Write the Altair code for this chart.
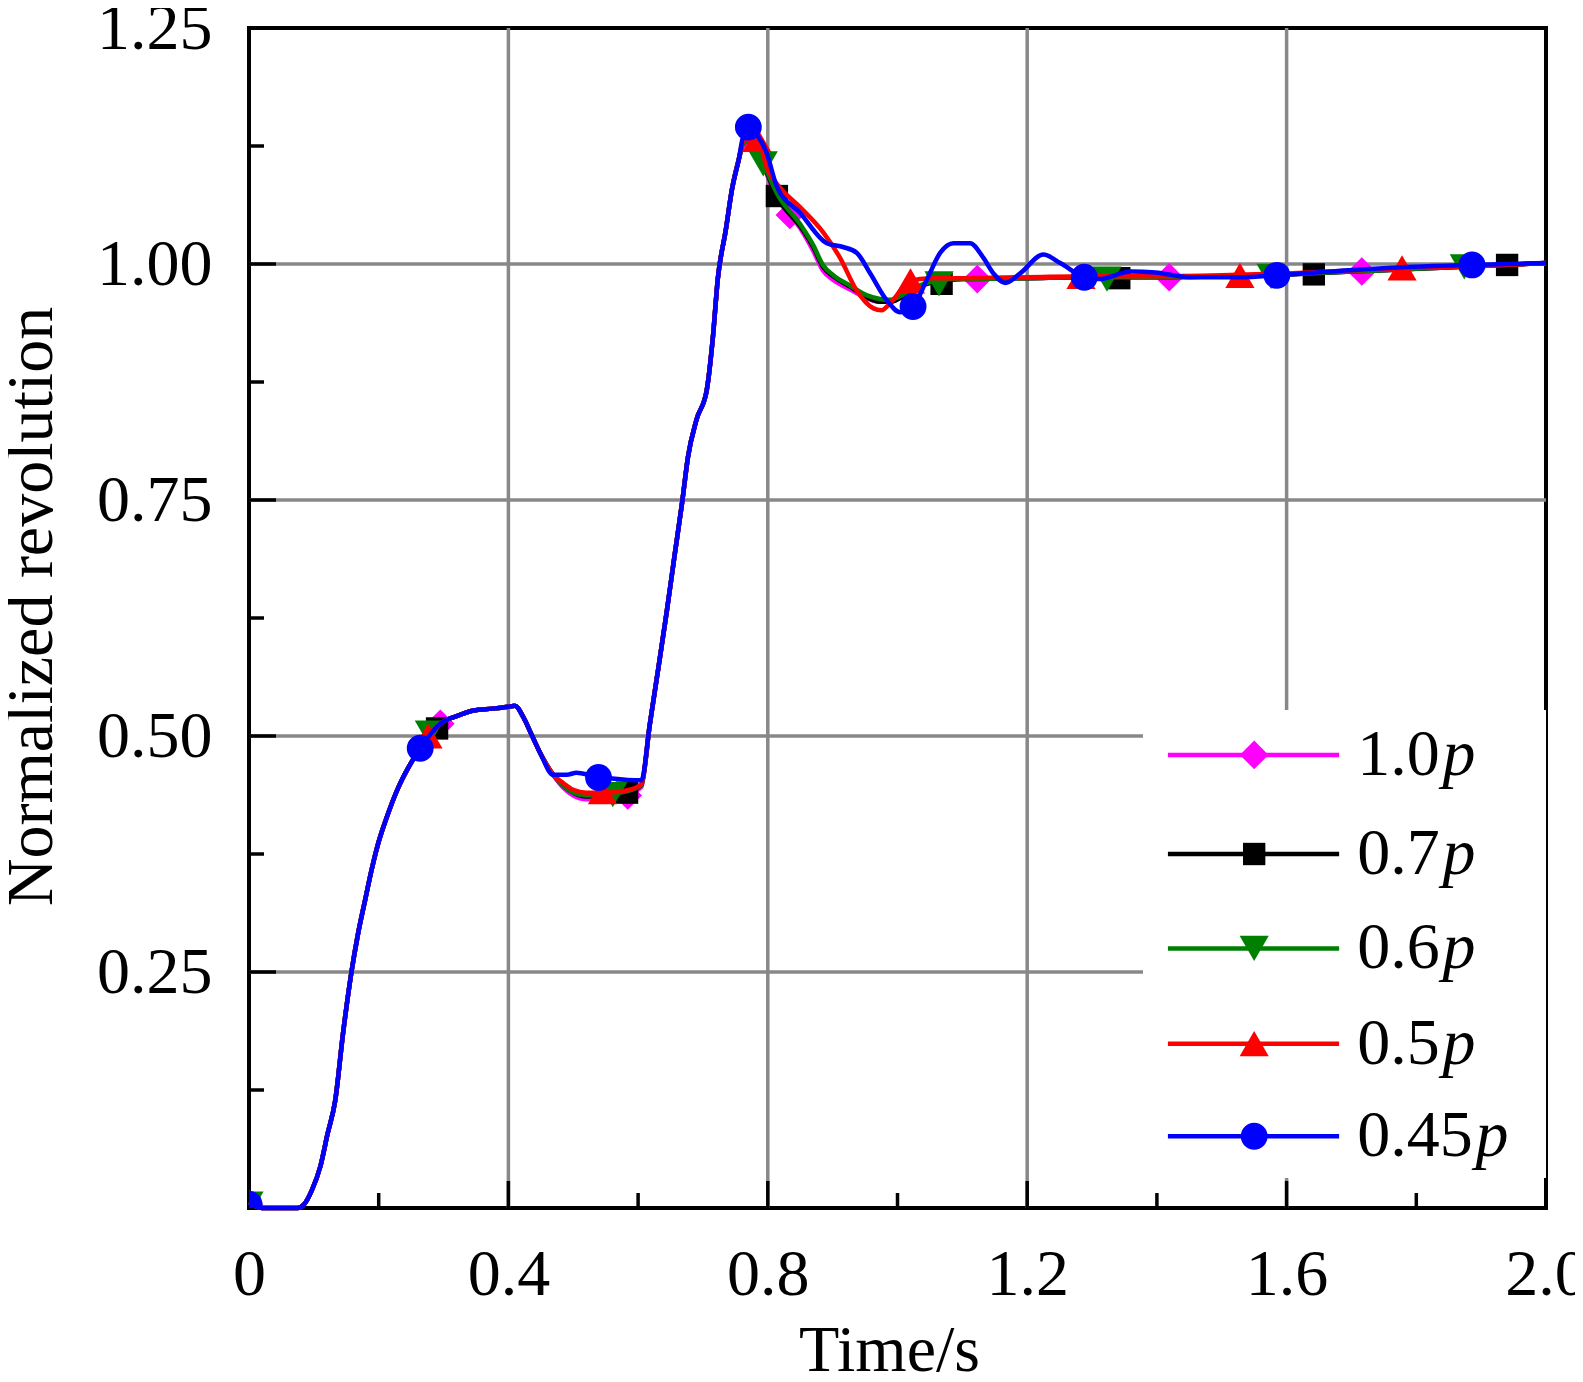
import altair as alt
import pandas as pd

# ---------------- data ----------------
SERIES = ["1.0", "0.7", "0.6", "0.5", "0.45"]
COLORS = ["#FF00FF", "#000000", "#008000", "#FF0000", "#0000FF"]
SHAPES = ["diamond", "square", "triangle-down", "triangle-up", "circle"]

# shared start-up part (all series coincide)
EARLY_T = [0.0, 0.01, 0.02, 0.05, 0.075, 0.085, 0.097, 0.11, 0.121, 0.133, 0.145, 0.158,
           0.168, 0.179, 0.189, 0.2, 0.213, 0.23, 0.247, 0.264, 0.28, 0.295, 0.32,
           0.346, 0.375, 0.4, 0.41, 0.423, 0.436, 0.449, 0.469]
EARLY_V = [0.006, 0.002, 0.0, 0.0, 0.0, 0.004, 0.019, 0.044, 0.078, 0.114, 0.185, 0.25,
           0.29, 0.326, 0.358, 0.388, 0.415, 0.445, 0.468, 0.487, 0.502, 0.513, 0.521,
           0.527, 0.529, 0.531, 0.532, 0.52, 0.501, 0.482, 0.459]

# dip (per series)
DIP_T = [0.485, 0.5, 0.52, 0.55, 0.58, 0.605]
DIP_10 = [0.445, 0.437, 0.433, 0.434, 0.437, 0.446]
DIP_07 = [0.447, 0.44, 0.436, 0.437, 0.44, 0.448]
DIP_06 = [0.447, 0.44, 0.437, 0.438, 0.441, 0.448]
DIP_05 = [0.45, 0.443, 0.44, 0.44, 0.442, 0.449]
DIP_T_045 = [0.49, 0.505, 0.53, 0.56, 0.605]
DIP_045 = [0.459, 0.461, 0.458, 0.455, 0.453]

# shared steep rise
RISE_T = [0.618, 0.631, 0.644, 0.656, 0.668, 0.677, 0.69, 0.706, 0.715, 0.723, 0.735, 0.745, 0.755]
RISE_V = [0.512, 0.571, 0.631, 0.69, 0.748, 0.796, 0.835, 0.867, 0.92, 0.985, 1.035, 1.08, 1.11]

# overshoot and settling (per series)
POST_T_10 = [0.762, 0.772, 0.782, 0.793, 0.814, 0.834, 0.85, 0.87, 0.885, 0.901, 0.927, 0.952,
             0.973, 0.99, 1.004, 1.03, 1.055, 1.08]
POST_10 = [1.125, 1.13, 1.125, 1.105, 1.07, 1.052, 1.038, 1.014, 0.993, 0.983, 0.973, 0.964,
           0.96, 0.96, 0.964, 0.975, 0.981, 0.983]
POST_T_07 = [0.762, 0.772, 0.782, 0.793, 0.814, 0.824, 0.85, 0.87, 0.885, 0.901, 0.927, 0.952,
             0.973, 0.99, 1.004, 1.03, 1.055, 1.08]
POST_07 = [1.128, 1.132, 1.127, 1.107, 1.072, 1.061, 1.04, 1.018, 0.997, 0.987, 0.976, 0.965,
           0.96, 0.96, 0.964, 0.975, 0.981, 0.983]
POST_T_06 = [0.762, 0.772, 0.782, 0.793, 0.814, 0.85, 0.87, 0.885, 0.901, 0.927, 0.952,
             0.973, 0.99, 1.004, 1.03, 1.055, 1.08]
POST_06 = [1.128, 1.132, 1.128, 1.108, 1.075, 1.042, 1.02, 0.999, 0.988, 0.977, 0.967,
           0.963, 0.962, 0.966, 0.976, 0.982, 0.984]
POST_T_05 = [0.762, 0.772, 0.785, 0.798, 0.82, 0.85, 0.886, 0.911, 0.937, 0.963, 0.975,
             0.993, 1.019, 1.05, 1.08]
POST_05 = [1.13, 1.133, 1.132, 1.103, 1.08, 1.06, 1.033, 1.007, 0.972, 0.953, 0.951,
           0.962, 0.982, 0.985, 0.985]
POST_T_045 = [0.762, 0.77, 0.785, 0.798, 0.814, 0.85, 0.891, 0.916, 0.937, 0.958, 0.983,
              1.004, 1.024, 1.045, 1.066, 1.086, 1.112, 1.132, 1.148, 1.166, 1.189, 1.225,
              1.251, 1.288, 1.31, 1.36, 1.398, 1.45, 1.53, 1.585, 1.689, 1.795, 1.886, 2.0]
POST_045 = [1.135, 1.142, 1.135, 1.118, 1.082, 1.054, 1.022, 1.018, 1.012, 0.99, 0.962,
            0.949, 0.955, 0.983, 1.012, 1.022, 1.022, 1.007, 0.99, 0.98, 0.99, 1.01,
            1.001, 0.986, 0.984, 0.992, 0.991, 0.986, 0.986, 0.988, 0.993, 0.997, 0.999, 1.001]

TAIL_T = [1.1, 1.2, 1.3, 1.4, 1.5, 1.6, 1.7, 1.8, 1.9, 2.0]
TAIL = [0.984, 0.985, 0.986, 0.986, 0.987, 0.989, 0.992, 0.995, 0.998, 1.001]
TAIL_05 = [0.985, 0.986, 0.987, 0.987, 0.988, 0.99, 0.993, 0.996, 0.998, 1.001]

# markers
MK_T_10 = [0.0, 0.295, 0.584, 0.834, 1.123, 1.419, 1.716]
MK_V_10 = [0.004, 0.513, 0.437, 1.052, 0.984, 0.986, 0.992]
MK_T_07 = [0.0, 0.29, 0.583, 0.814, 1.068, 1.342, 1.642, 1.94]
MK_V_07 = [0.004, 0.508, 0.44, 1.072, 0.979, 0.985, 0.989, 0.999]
MK_T_06 = [0.0, 0.278, 0.561, 0.793, 1.064, 1.323, 1.576, 1.874]
MK_V_06 = [0.004, 0.503, 0.438, 1.106, 0.979, 0.984, 0.987, 0.997]
MK_T_05 = [0.0, 0.276, 0.545, 0.783, 1.02, 1.283, 1.528, 1.778]
MK_V_05 = [0.004, 0.5, 0.441, 1.132, 0.982, 0.987, 0.988, 0.996]
MK_T_045 = [0.0, 0.264, 0.539, 0.770, 1.024, 1.288, 1.585, 1.886]
MK_V_045 = [0.004, 0.487, 0.456, 1.145, 0.955, 0.986, 0.988, 0.999]

X_LABEL_VALUES = [0, 0.4, 0.8, 1.2, 1.6, 2.0]
Y_LABEL_VALUES = [0, 0.25, 0.5, 0.75, 1.0, 1.25]
X_MAJOR = [0.4, 0.8, 1.2, 1.6]
X_MINOR = [0.2, 0.6, 1.0, 1.4, 1.8]
Y_MAJOR = [0.25, 0.5, 0.75, 1.0]
Y_MINOR = [0.125, 0.375, 0.625, 0.875, 1.125]

LINE_T = [
    EARLY_T + DIP_T + RISE_T + POST_T_10 + TAIL_T,
    EARLY_T + DIP_T + RISE_T + POST_T_07 + TAIL_T,
    EARLY_T + DIP_T + RISE_T + POST_T_06 + TAIL_T,
    EARLY_T + DIP_T + RISE_T + POST_T_05 + TAIL_T,
    EARLY_T + DIP_T_045 + RISE_T + POST_T_045,
]
LINE_V = [
    EARLY_V + DIP_10 + RISE_V + POST_10 + TAIL,
    EARLY_V + DIP_07 + RISE_V + POST_07 + TAIL,
    EARLY_V + DIP_06 + RISE_V + POST_06 + TAIL,
    EARLY_V + DIP_05 + RISE_V + POST_05 + TAIL_05,
    EARLY_V + DIP_045 + RISE_V + POST_045,
]
MK_T = [MK_T_10, MK_T_07, MK_T_06, MK_T_05, MK_T_045]
MK_V = [MK_V_10, MK_V_07, MK_V_06, MK_V_05, MK_V_045]

# ---------------- layout / style ----------------
W, H = 1297, 1180
FONT = "Liberation Serif"
FS = 66
SIZES = [820, 500, 850, 850, 720]
LW = 4.5
GRID_COLOR = "#888888"
PX_PER_X = W / 2.0

LEG_X0, LEG_X1, LEG_XM, LEG_XL = 1.417, 1.681, 1.550, 1.709
LEG_ROWS = [0.480, 0.375, 0.275, 0.174, 0.076]

XS = alt.Scale(domain=[0, 2], nice=False, zero=False)
YS = alt.Scale(domain=[0, 1.25], nice=False, zero=False)

X_AX = alt.Axis(values=X_LABEL_VALUES,
                labelExpr="datum.value == 0 ? '0' : format(datum.value, '.1f')",
                labelPadding=34, labelFlush=False, labelOverlap=False,
                title="Time/s", titleBaseline="alphabetic", titleY=162, titleX=640,
                titleAlign="center")
Y_AX = alt.Axis(values=Y_LABEL_VALUES,
                labelExpr="datum.value == 0 ? '' : format(datum.value, '.2f')",
                labelPadding=37, labelFlush=False, labelOverlap=False,
                title="Normalized revolution", titleBaseline="alphabetic",
                titleX=-198, titleY=578, titleAngle=270, titleAlign="center")


def xenc(f):
    return alt.X(f"{f}:Q", scale=XS, axis=X_AX)


def yenc(f):
    return alt.Y(f"{f}:Q", scale=YS, axis=Y_AX)


layers = []
layers.append(alt.Chart(pd.DataFrame({"g": X_MAJOR})).mark_rule(color=GRID_COLOR, strokeWidth=3.5)
              .encode(x=xenc("g"), y=alt.value(0), y2=alt.value(H)))
layers.append(alt.Chart(pd.DataFrame({"g": Y_MAJOR})).mark_rule(color=GRID_COLOR, strokeWidth=3.5)
              .encode(y=yenc("g"), x=alt.value(0), x2=alt.value(W)))
# white legend background
layers.append(alt.Chart(pd.DataFrame({"a": [0]})).mark_rect(color="white")
              .encode(x=alt.value(894), x2=alt.value(W), y=alt.value(682), y2=alt.value(H - 30)))
# inward ticks
for vals, ln in [(X_MAJOR, 27), (X_MINOR, 15)]:
    layers.append(alt.Chart(pd.DataFrame({"g": vals})).mark_rule(color="black", strokeWidth=3.5)
                  .encode(x=xenc("g"), y=alt.value(H), y2=alt.value(H - ln)))
for vals, ln in [(Y_MAJOR, 27), (Y_MINOR, 15)]:
    layers.append(alt.Chart(pd.DataFrame({"g": vals})).mark_rule(color="black", strokeWidth=3.5)
                  .encode(y=yenc("g"), x=alt.value(0), x2=alt.value(ln)))

for i in range(5):
    df = pd.DataFrame({"t": LINE_T[i], "v": LINE_V[i]})
    layers.append(alt.Chart(df).mark_line(color=COLORS[i], strokeWidth=LW, interpolate="monotone")
                  .encode(x=xenc("t"), y=yenc("v")))
    dm = pd.DataFrame({"t": MK_T[i], "v": MK_V[i]})
    layers.append(alt.Chart(dm).mark_point(shape=SHAPES[i], filled=True, size=SIZES[i],
                                           color=COLORS[i], opacity=1, clip=True)
                  .encode(x=xenc("t"), y=yenc("v")))

for i in range(5):
    nchar_em = 1.25 if len(SERIES[i]) == 3 else 1.75
    xp = LEG_XL + nchar_em * FS / PX_PER_X + 0.004
    dl = pd.DataFrame({"x0": [LEG_X0], "x1": [LEG_X1], "xm": [LEG_XM], "xl": [LEG_XL],
                       "xp": [xp], "y": [LEG_ROWS[i]], "lab": [SERIES[i]], "p": ["p"]})
    base = alt.Chart(dl)
    layers.append(base.mark_rule(color=COLORS[i], strokeWidth=LW)
                  .encode(x=xenc("x0"), x2=alt.X2("x1"), y=yenc("y")))
    layers.append(base.mark_point(shape=SHAPES[i], filled=True, size=SIZES[i],
                                  color=COLORS[i], opacity=1)
                  .encode(x=xenc("xm"), y=yenc("y")))
    layers.append(base.mark_text(align="left", baseline="alphabetic", dy=20, font=FONT,
                                 fontSize=FS, color="black")
                  .encode(x=xenc("xl"), y=yenc("y"), text="lab:N"))
    layers.append(base.mark_text(align="left", baseline="alphabetic", dy=20, font=FONT,
                                 fontSize=FS, fontStyle="italic", color="black")
                  .encode(x=xenc("xp"), y=yenc("y"), text="p:N"))

chart = (alt.layer(*layers)
         .properties(width=W, height=H,
                     padding={"left": 241, "top": 20, "right": 29, "bottom": 165},
                     autosize=alt.AutoSizeParams(type="none"),
                     background="white")
         .configure_view(stroke="black", strokeWidth=4)
         .configure_axis(labelFont=FONT, labelFontSize=FS, labelColor="black",
                         titleFont=FONT, titleFontSize=FS, titleFontWeight="normal",
                         titleColor="black", ticks=False, tickSize=0, grid=False,
                         domain=False))

chart.save("out.html", embed_options={"renderer": "svg", "actions": False})
